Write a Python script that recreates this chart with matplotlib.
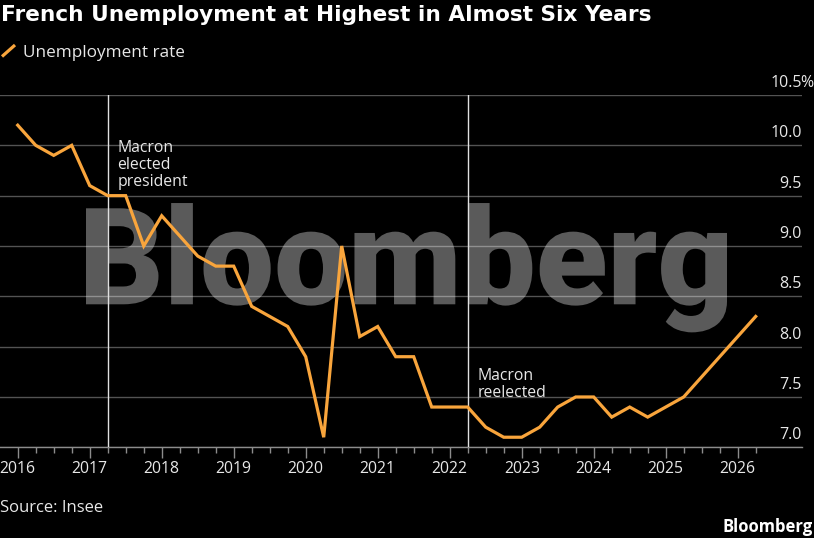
import numpy as np
import pandas as pd
import matplotlib
matplotlib.use("Agg")
from matplotlib import pyplot as plt, ticker
from matplotlib.lines import Line2D
from matplotlib.patches import PathPatch
from matplotlib.textpath import TextPath
from matplotlib.font_manager import FontProperties
from matplotlib.transforms import Affine2D, IdentityTransform, blended_transform_factory, offset_copy

# Quarterly unemployment rate (%), 2016Q1 .. 2026Q2
rate = [
    10.2, 10.0, 9.9, 10.0,
    9.6, 9.5, 9.5, 9.0,
    9.3, 9.1, 8.9, 8.8,
    8.8, 8.4, 8.3, 8.2,
    7.9, 7.1, 9.0, 8.1,
    8.2, 7.9, 7.9, 7.4,
    7.4, 7.4, 7.2, 7.1,
    7.1, 7.2, 7.4, 7.5,
    7.5, 7.3, 7.4, 7.3,
    7.4, 7.5, 7.7, 7.9,
    8.1, 8.3,
]
quarters = pd.period_range("2016Q1", periods=len(rate), freq="Q")
years = list(range(2016, 2027))
ytick_vals = [7.0, 7.5, 8.0, 8.5, 9.0, 9.5, 10.0, 10.5]
events = ["2017Q2", "2022Q2"]
event_labels = ["Macron\nelected\npresident", "Macron\nreelected"]
event_label_y = [9.60, 7.496]   # baseline of the last line

ORANGE = "#f9a53c"
BG = "black"
TXT = "#e8e8e8"
FONT = "Open Sans"

W, H = 814, 538
fig = plt.figure(figsize=(W / 100, H / 100), dpi=100, facecolor=BG)


def to_year(q):
    return q.year + (q.quarter - 1) / 4


x = np.array([to_year(q) for q in quarters])

ax = fig.add_axes([0, 90.7 / H, 802 / W, 352.3 / H])
ax.set_facecolor(BG)
ax.set_xlim(2015.754, 2026.893)
ax.set_ylim(7.0, 10.5)

# watermark
wm_font = FontProperties(family="Roboto", weight="black")
tp = TextPath((0, 0), "Bloomberg", size=100, prop=wm_font)
cap = TextPath((0, 0), "B", size=100, prop=wm_font).get_extents().y1
bb = tp.get_extents()
tr = Affine2D().translate(-bb.x0, 0).scale(641 / bb.width, 96 / cap).translate(86, H - 304.3)
wm = PathPatch(tp, transform=tr, facecolor="#5a5a5a", edgecolor="none", zorder=1)
wm.set_clip_on(False)
ax.add_patch(wm)

# grid
ax.set_yticks(ytick_vals)
ax.yaxis.grid(True, color="white", alpha=0.33, linewidth=1, zorder=1.5)
ax.tick_params(axis="y", length=0, labelleft=False)
for s in ["top", "right", "left"]:
    ax.spines[s].set_visible(False)
ax.spines["bottom"].set_color("#8c8c8c")
ax.spines["bottom"].set_linewidth(1)
ax.spines["bottom"].set_zorder(1.6)

# x ticks
ax.xaxis.set_major_locator(ticker.FixedLocator(years))
ax.xaxis.set_minor_locator(ticker.FixedLocator([v for v in x if v not in years]))
ax.set_xticklabels([str(y) for y in years], fontfamily=FONT, fontsize=11.3, color=TXT)
ax.tick_params(axis="x", which="major", length=8, width=1, color="#8c8c8c", pad=2)
ax.tick_params(axis="x", which="minor", length=4, width=1, color="#8c8c8c")

# event lines + labels
for q, label, ly in zip(events, event_labels, event_label_y):
    xe = to_year(pd.Period(q, freq="Q"))
    ax.plot([xe, xe], [7.0, 10.5], color="#e0e0e0", linewidth=1, zorder=1.7)
    ax.text(xe + 0.135, ly, label, fontfamily=FONT, fontsize=11.3, color=TXT,
            va="baseline", ha="left", linespacing=1.08, zorder=3)

# the series
ax.plot(x, rate, color=ORANGE, linewidth=2.3, solid_joinstyle="miter", zorder=2.5)

# right-hand y labels
ytr = offset_copy(blended_transform_factory(ax.transAxes, ax.transData), fig=fig, y=8, units="dots")
for v in ytick_vals:
    ax.text(1.0, v, f"{v:.1f}", transform=ytr, ha="right", va="baseline",
            fontfamily=FONT, fontsize=11.5, color=TXT, clip_on=False)
pct_tr = offset_copy(ytr, fig=fig, x=-1.5, units="dots")
ax.text(1.0, ytick_vals[-1], "%", transform=pct_tr, ha="left", va="baseline",
        fontfamily=FONT, fontsize=11.5, color=TXT, clip_on=False)

# title, legend, source, logo
fig.text(1 / W, 1 - 21 / H, "French Unemployment at Highest in Almost Six Years",
         fontfamily="DejaVu Sans", fontweight="bold", fontsize=15.55, color="white",
         va="baseline", ha="left")
fig.add_artist(Line2D([2, 15], [H - 56.5, H - 45], transform=IdentityTransform(),
                      color=ORANGE, linewidth=2.3, solid_capstyle="butt"))
fig.text(23 / W, 1 - 57.3 / H, "Unemployment rate", fontfamily=FONT, fontsize=12.3,
         color=TXT, va="baseline", ha="left")
fig.text(0, 1 - 511.7 / H, "Source: Insee", fontfamily=FONT, fontsize=12,
         color=TXT, va="baseline", ha="left")
fig.text(1 - 1 / W, 1 - 532.3 / H, "Bloomberg", fontfamily=FONT, fontweight="bold",
         fontsize=12, color="white", va="baseline", ha="right")

fig.savefig("out.png", dpi=100, facecolor=BG)
